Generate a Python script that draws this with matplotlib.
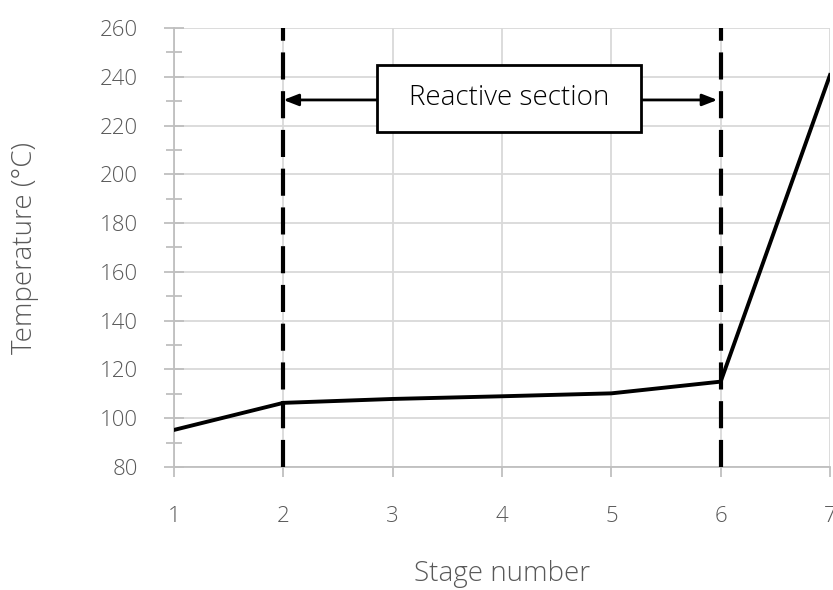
import matplotlib
matplotlib.use("Agg")
import matplotlib.pyplot as plt
from matplotlib.ticker import MultipleLocator
from matplotlib.patches import Rectangle

stages = [1, 2, 3, 4, 5, 6, 7]
temperature = [95.2, 106.3, 107.9, 109.0, 110.2, 115.0, 240.7]
section_bounds = [2, 6]
section_label = "Reactive section"
arrow_y = 230.5

plt.rcParams['font.family'] = ['Open Sans', 'DejaVu Sans']
txt = '#595959'
fig = plt.figure(figsize=(8.33, 5.9), dpi=100)
ax = fig.add_axes([174/833, 1-467/590, (830-174)/833, (467-28)/590])

ax.plot(stages, temperature, color='black', lw=2.8, zorder=4, solid_joinstyle='miter')
for b in section_bounds:
    ax.axvline(b, color='black', lw=3.0, dashes=(6.5, 2.8), zorder=3)

ax.set_xlim(1, 7)
ax.set_ylim(80, 260)
ax.xaxis.set_major_locator(MultipleLocator(1))
ax.yaxis.set_major_locator(MultipleLocator(20))
ax.yaxis.set_minor_locator(MultipleLocator(10))
ax.grid(True, which='major', color='#d9d9d9', lw=1.3, zorder=0)
for s in ['top', 'right']:
    ax.spines[s].set_visible(False)
for s in ['left', 'bottom']:
    ax.spines[s].set_color('#bfbfbf')
    ax.spines[s].set_linewidth(1.3)
ax.tick_params(axis='y', which='major', direction='inout', length=14, width=1.3,
               color='#bfbfbf', labelsize=16, labelcolor=txt, pad=19)
ax.tick_params(axis='y', which='minor', direction='inout', length=11, width=1.3, color='#bfbfbf')
ax.tick_params(axis='x', which='major', direction='out', length=7, width=1.3,
               color='#bfbfbf', labelsize=16, labelcolor=txt, pad=21)
for lab in ax.get_xticklabels() + ax.get_yticklabels():
    lab.set_fontweight('light')

ax.set_xlabel('Stage number', fontsize=20, color=txt, labelpad=24, fontweight='light')
ax.set_ylabel('Temperature (°C)', fontsize=20, color=txt, labelpad=44, fontweight='light')

# annotation box (data-coordinate placement)
bx0, bx1, by0, by1 = 2.857, 5.271, 217.4, 244.8
ax.add_patch(Rectangle((bx0, by0), bx1 - bx0, by1 - by0, fc='white', ec='black', lw=2, zorder=6))
ax.text((bx0 + bx1) / 2, (by0 + by1) / 2, section_label, fontsize=20, fontweight='light',
        ha='center', va='center', color='black', zorder=7)
ax.annotate('', xy=(section_bounds[0], arrow_y), xytext=(bx0, arrow_y),
            arrowprops=dict(arrowstyle='-|>,head_length=0.9,head_width=0.35', color='black', lw=2,
                            shrinkA=0, shrinkB=0), zorder=5)
ax.annotate('', xy=(section_bounds[1] - 0.03, arrow_y), xytext=(bx1, arrow_y),
            arrowprops=dict(arrowstyle='-|>,head_length=0.9,head_width=0.35', color='black', lw=2,
                            shrinkA=0, shrinkB=0), zorder=5)

fig.savefig('out.png', dpi=100)
